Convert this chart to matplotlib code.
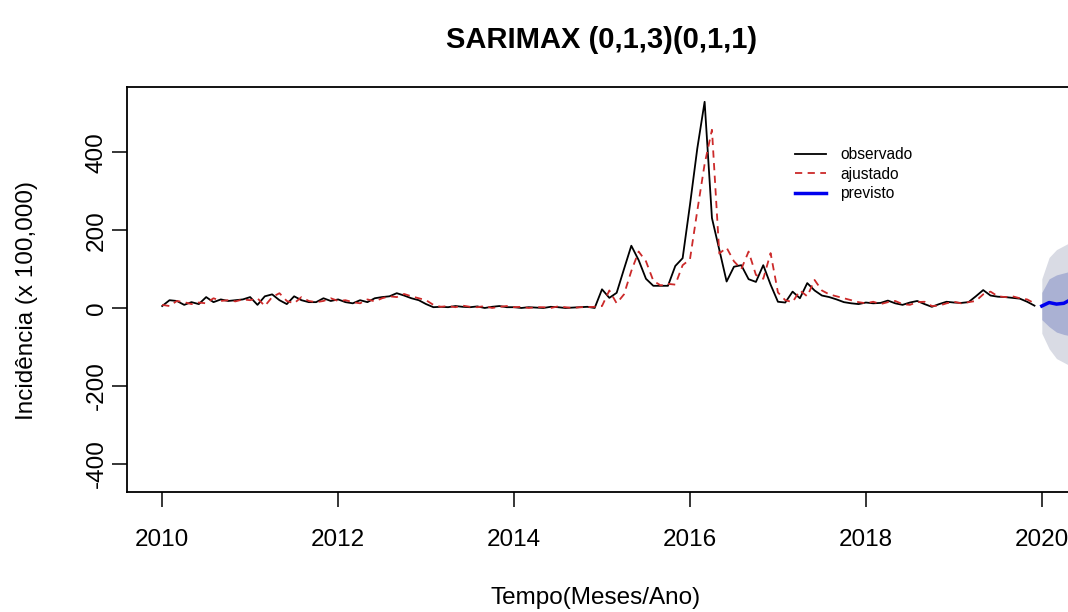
import numpy as np
import matplotlib.pyplot as plt

plt.rcParams['font.family'] = ['Liberation Sans', 'DejaVu Sans']
plt.rcParams['axes.unicode_minus'] = False

# monthly incidence, Jan 2010 - Dec 2019
observado = [5, 20, 18, 8, 15, 10, 28, 15, 22, 18, 20, 22,
             28, 8, 30, 35, 20, 10, 30, 20, 15, 15, 25, 18,
             22, 15, 12, 20, 15, 25, 28, 30, 38, 32, 25, 20,
             10, 2, 3, 2, 5, 3, 2, 4, 0, 3, 5, 2,
             2, 0, 2, 1, 0, 3, 2, 0, 1, 2, 3, 0,
             48, 26, 39, 100, 160, 123, 75, 57, 57, 57, 108, 128,
             265, 410, 530, 231, 150, 68, 106, 110, 74, 67, 110, 60,
             16, 14, 42, 25, 64, 45, 32, 28, 22, 15, 12, 10,
             14, 12, 13, 19, 12, 8, 14, 18, 10, 3, 10, 16,
             14, 13, 15, 30, 46, 32, 29, 28, 26, 24, 16, 6]

ajustado = [8, 5, 18, 15, 10, 14, 12, 25, 18, 20, 17, 22,
            20, 25, 5, 28, 38, 18, 12, 28, 18, 15, 18, 25,
            18, 20, 15, 12, 22, 17, 25, 30, 28, 36, 30, 25,
            20, 8, 3, 5, 2, 6, 3, 2, 5, 0, 3, 5,
            2, 3, 0, 2, 2, 0, 4, 2, 0, 2, 2, 3,
            5, 45, 12, 35, 95, 145, 120, 70, 58, 62, 60, 110,
            125, 250, 370, 458, 140, 155, 120, 100, 145, 85, 75, 141,
            40, 20, 15, 45, 30, 72, 45, 35, 30, 25, 20, 15,
            12, 16, 10, 15, 18, 10, 8, 15, 16, 5, 6, 12,
            16, 12, 15, 18, 35, 42, 30, 28, 30, 25, 22, 12]

# forecast Jan 2020 onwards with 80% / 95% intervals
previsto = [5, 14, 10, 12, 22, 18]
lo80 = [-30, -48, -62, -68, -72, -76]
hi80 = [40, 75, 85, 90, 95, 100]
lo95 = [-65, -105, -130, -140, -150, -158]
hi95 = [75, 130, 150, 160, 170, 178]

t_obs = 2010 + np.arange(len(observado)) / 12
t_prev = 2020 + np.arange(len(previsto)) / 12

fig = plt.figure(figsize=(10.68, 6.12), dpi=100)
ax = fig.add_axes([127 / 1068, 120 / 612, 950 / 1068, 405 / 612])

ax.fill_between(t_prev, lo95, hi95, color='#D9DBE4', lw=0)
ax.fill_between(t_prev, lo80, hi80, color='#AAB1D3', lw=0)
ax.plot(t_obs, observado, color='black', lw=1.3, label='observado')
ax.plot(t_obs, ajustado, color='#CC2A2A', lw=1.3, ls=(0, (4, 3)), label='ajustado')
ax.plot(t_prev, previsto, color='#0000EE', lw=2.5, label='previsto')

ax.set_xlim(2009.6, 2020.4)
ax.set_ylim(-473, 568)
ax.set_xticks([2010, 2012, 2014, 2016, 2018, 2020])
ax.set_yticks([-400, -200, 0, 200, 400])
ax.tick_params(axis='both', direction='out', length=11, width=1.1, labelsize=17.5)
ax.tick_params(axis='x', pad=16)
ax.tick_params(axis='y', pad=3)
for lab in ax.get_yticklabels():
    lab.set_rotation(90)
    lab.set_va('center')
for s in ax.spines.values():
    s.set_linewidth(1.3)

ax.legend(loc='upper left', bbox_to_anchor=(0.695, 0.87), frameon=False,
          fontsize=11.2, handlelength=2.0, handletextpad=0.9, labelspacing=0.28,
          borderpad=0)

fig.text(602 / 1068, 1 - 40 / 612, 'SARIMAX (0,1,3)(0,1,1)', ha='center', va='center',
         fontsize=21, fontweight='bold')
fig.text(596 / 1068, 1 - 598 / 612, 'Tempo(Meses/Ano)', ha='center', va='center',
         fontsize=17.5)
fig.text(27 / 1068, 1 - 300 / 612, 'Incidência (x 100,000)', ha='center', va='center',
         rotation=90, fontsize=17.5)

plt.savefig('out.png', dpi=100)
